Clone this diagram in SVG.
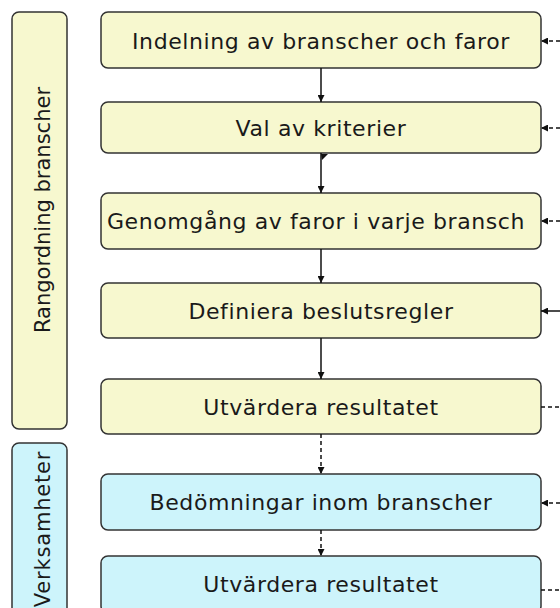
<svg xmlns="http://www.w3.org/2000/svg" width="560" height="608" viewBox="0 0 560 608">
  <style>
    .y { fill: #f7f8cf; stroke: #333333; stroke-width: 1.5; }
    .b { fill: #cdf4fb; stroke: #333333; stroke-width: 1.5; }
    .t { font-family: "DejaVu Sans", Verdana, sans-serif; font-size: 22px; letter-spacing: 0.6px; fill: #1a1a1a; text-anchor: middle; }
    .v { font-family: "DejaVu Sans", Verdana, sans-serif; font-size: 21px; fill: #1a1a1a; text-anchor: middle; }
    .c { fill: none; stroke: #111111; stroke-width: 1.5; }
    .d { stroke-dasharray: 4 3; }
  </style>
  <defs>
    <marker id="ah" viewBox="0 0 10 10" refX="10" refY="5" markerWidth="7" markerHeight="7" markerUnits="userSpaceOnUse" orient="auto">
      <path d="M0,0 L10,5 L0,10 Z" fill="#111111"/>
    </marker>
  </defs>

  <g id="lane-rangordning">
    <rect class="y" x="12" y="12" width="55" height="417" rx="7"/>
    <text class="v" transform="translate(50,210) rotate(-90)">Rangordning branscher</text>
  </g>
  <g id="lane-verksamheter">
    <rect class="b" x="12" y="443" width="55" height="180" rx="7"/>
    <text class="v" letter-spacing="0.8" transform="translate(50,529) rotate(-90)">Verksamheter</text>
  </g>

  <g id="n1">
    <rect class="y" x="101" y="12" width="440" height="56" rx="7"/>
    <text class="t" x="321" y="49">Indelning av branscher och faror</text>
  </g>
  <g id="n2">
    <rect class="y" x="101" y="102" width="440" height="51" rx="7"/>
    <text class="t" x="321" y="136">Val av kriterier</text>
  </g>
  <g id="n3">
    <rect class="y" x="101" y="193" width="440" height="56" rx="7"/>
    <text class="t" x="316" y="229">Genomgång av faror i varje bransch</text>
  </g>
  <g id="n4">
    <rect class="y" x="101" y="283" width="440" height="55" rx="7"/>
    <text class="t" x="321" y="319">Definiera beslutsregler</text>
  </g>
  <g id="n5">
    <rect class="y" x="101" y="379" width="440" height="55" rx="7"/>
    <text class="t" x="321" y="415">Utvärdera resultatet</text>
  </g>
  <g id="n6">
    <rect class="b" x="101" y="474" width="440" height="56" rx="7"/>
    <text class="t" x="321" y="510">Bedömningar inom branscher</text>
  </g>
  <g id="n7">
    <rect class="b" x="101" y="556" width="440" height="57" rx="7"/>
    <text class="t" x="321" y="592">Utvärdera resultatet</text>
  </g>

  <g id="connectors">
    <line class="c" x1="321" y1="68" x2="321" y2="102" marker-end="url(#ah)"/>
    <line class="c" x1="321" y1="153" x2="321" y2="193" marker-end="url(#ah)"/>
    <polygon points="321,154 328,154 322,160" fill="#111111"/>
    <line class="c" x1="321" y1="249" x2="321" y2="283" marker-end="url(#ah)"/>
    <line class="c" x1="321" y1="338" x2="321" y2="379" marker-end="url(#ah)"/>
    <line class="c d" x1="321" y1="434" x2="321" y2="474" marker-end="url(#ah)"/>
    <line class="c d" x1="321" y1="530" x2="321" y2="556" marker-end="url(#ah)"/>

    <line class="c d" x1="560" y1="41" x2="541" y2="41" marker-end="url(#ah)"/>
    <line class="c d" x1="560" y1="128" x2="541" y2="128" marker-end="url(#ah)"/>
    <line class="c d" x1="560" y1="221" x2="541" y2="221" marker-end="url(#ah)"/>
    <line class="c" x1="560" y1="311" x2="541" y2="311" marker-end="url(#ah)"/>
    <line class="c d" x1="541" y1="407" x2="560" y2="407"/>
    <line class="c d" x1="560" y1="503" x2="541" y2="503" marker-end="url(#ah)"/>
    <line class="c d" x1="541" y1="590" x2="560" y2="590"/>
  </g>
</svg>
